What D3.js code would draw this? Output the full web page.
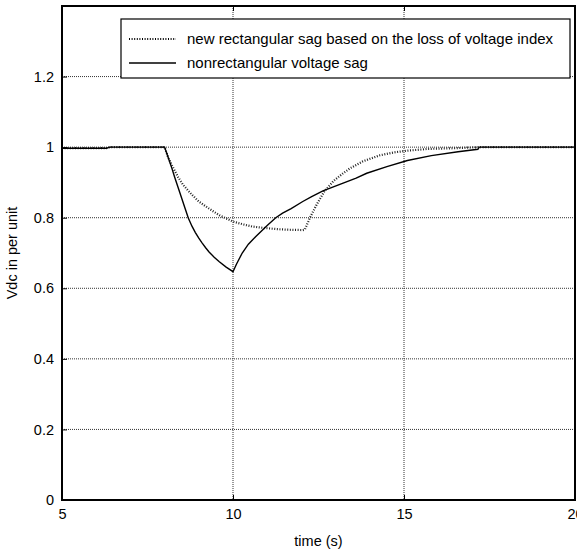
<!DOCTYPE html>
<html><head><meta charset="utf-8">
<script src="https://cdn.jsdelivr.net/npm/d3@7"></script>
<style>body{margin:0;background:#fff}svg{display:block}</style>
</head><body>
<svg id="c" width="577" height="553"></svg>
<script>
const xTicks = [5, 10, 15, 20];
const yTicks = [0, 0.2, 0.4, 0.6, 0.8, 1, 1.2];
const yTickLabels = ["0", "0.2", "0.4", "0.6", "0.8", "1", "1.2"];
const seriesNames = ["new rectangular sag based on the loss of voltage index", "nonrectangular voltage sag"];
const rectT = [5, 6.3, 6.4, 8.0, 8.1, 8.2, 8.29, 8.4, 8.55, 8.79, 9.0, 9.28, 9.6, 10.0, 10.3, 10.56, 10.9, 11.25, 11.6, 12.04, 12.1, 12.24, 12.45, 12.68, 12.95, 13.22, 13.42, 13.8, 14.3, 14.7, 15.1, 15.7, 16.5, 17.2, 20];
const rectV = [0.997, 0.997, 1.0, 1.0, 0.972, 0.951, 0.934, 0.914, 0.892, 0.866, 0.846, 0.827, 0.807, 0.789, 0.781, 0.775, 0.771, 0.768, 0.766, 0.765, 0.766, 0.798, 0.838, 0.876, 0.905, 0.926, 0.94, 0.96, 0.977, 0.985, 0.99, 0.995, 0.997, 1.0, 1.0];
const sagT = [5, 6.3, 6.4, 8.0, 8.1, 8.2, 8.29, 8.4, 8.5, 8.6, 8.69, 8.8, 8.9, 9.0, 9.1, 9.2, 9.3, 9.45, 9.6, 9.8, 10.0, 10.1, 10.27, 10.45, 10.66, 11.0, 11.25, 11.45, 11.7, 12.04, 12.3, 12.63, 13.22, 13.6, 13.91, 14.5, 15.1, 15.8, 16.58, 17.16, 17.2, 20];
const sagV = [0.997, 0.997, 1.0, 1.0, 0.972, 0.944, 0.916, 0.884, 0.855, 0.826, 0.80, 0.776, 0.758, 0.742, 0.728, 0.715, 0.703, 0.688, 0.675, 0.66, 0.647, 0.668, 0.70, 0.725, 0.746, 0.778, 0.80, 0.813, 0.826, 0.846, 0.86, 0.876, 0.898, 0.912, 0.926, 0.945, 0.962, 0.976, 0.987, 0.994, 1.0, 1.0];

const svg = d3.select("#c");
const L = 62, R = 575, T = 6, B = 500;
const x = d3.scaleLinear().domain([5, 20]).range([L, R]);
const y = d3.scaleLinear().domain([0, 1.4]).range([B, T]);
const font = "'Liberation Sans', Arial, sans-serif";

// grid
const g = svg.append("g");
g.selectAll(".gx").data(xTicks.filter(d => d > 5 && d < 20)).enter().append("line")
  .attr("x1", d => x(d)).attr("x2", d => x(d)).attr("y1", T).attr("y2", B)
  .attr("stroke", "#333").attr("stroke-width", 1).attr("stroke-dasharray", "1,1");
g.selectAll(".gy").data(yTicks.filter(d => d > 0)).enter().append("line")
  .attr("x1", L).attr("x2", R).attr("y1", d => y(d)).attr("y2", d => y(d))
  .attr("stroke", "#333").attr("stroke-width", 1).attr("stroke-dasharray", "1,1");

// lines
const line = d3.line().x(d => x(d[0])).y(d => y(d[1]));
svg.append("path").datum(rectT.map((t, i) => [t, rectV[i]]))
  .attr("d", line).attr("fill", "none").attr("stroke", "#222").attr("stroke-width", 2.2)
  .attr("stroke-dasharray", "1,1.6");
svg.append("path").datum(sagT.map((t, i) => [t, sagV[i]]))
  .attr("d", line).attr("fill", "none").attr("stroke", "#000").attr("stroke-width", 1.4);

// axes
const xAxis = d3.axisBottom(x).tickValues(xTicks).tickSize(-5).tickPadding(9).tickFormat(d3.format("d"));
const yAxis = d3.axisLeft(y).tickValues(yTicks).tickSize(-5).tickPadding(8).tickFormat((d, i) => yTickLabels[i]);
const ax = svg.append("g").attr("transform", `translate(0,${B})`).call(xAxis);
const ay = svg.append("g").attr("transform", `translate(${L},0)`).call(yAxis);
[ax, ay].forEach(a => {
  a.select(".domain").remove();
  a.selectAll("line").attr("stroke", "#000");
  a.selectAll("text").attr("font-family", font).attr("font-size", 14.5).attr("fill", "#000");
});
// top ticks
svg.append("g").attr("transform", `translate(0,${T})`).call(d3.axisTop(x).tickValues(xTicks).tickSize(-5).tickFormat(""))
  .call(a => { a.select(".domain").remove(); a.selectAll("line").attr("stroke", "#000"); });
// frame
svg.append("rect").attr("x", L).attr("y", T).attr("width", R - L).attr("height", B - T)
  .attr("fill", "none").attr("stroke", "#000").attr("stroke-width", 2);

// labels
svg.append("text").attr("x", (L + R) / 2).attr("y", 546).attr("text-anchor", "middle")
  .attr("font-family", font).attr("font-size", 14.5).text("time (s)");
svg.append("text").attr("transform", `translate(17,${(T + B) / 2}) rotate(-90)`).attr("text-anchor", "middle")
  .attr("font-family", font).attr("font-size", 14.5).text("Vdc in per unit");

// legend
const lg = svg.append("g");
lg.append("rect").attr("x", 121).attr("y", 19).attr("width", 449).attr("height", 59)
  .attr("fill", "#fff").attr("stroke", "#000").attr("stroke-width", 1.2);
const rows = [{y: 39, dash: "1,1.6", w: 2.2}, {y: 63, dash: null, w: 1.4}];
rows.forEach((r, i) => {
  const l = lg.append("line").attr("x1", 129).attr("x2", 176).attr("y1", r.y).attr("y2", r.y)
    .attr("stroke", "#000").attr("stroke-width", r.w);
  if (r.dash) l.attr("stroke-dasharray", r.dash);
  lg.append("text").attr("x", 187).attr("y", r.y + 5).attr("font-family", font).attr("font-size", 15)
    .text(seriesNames[i]);
});
</script>
</body></html>
